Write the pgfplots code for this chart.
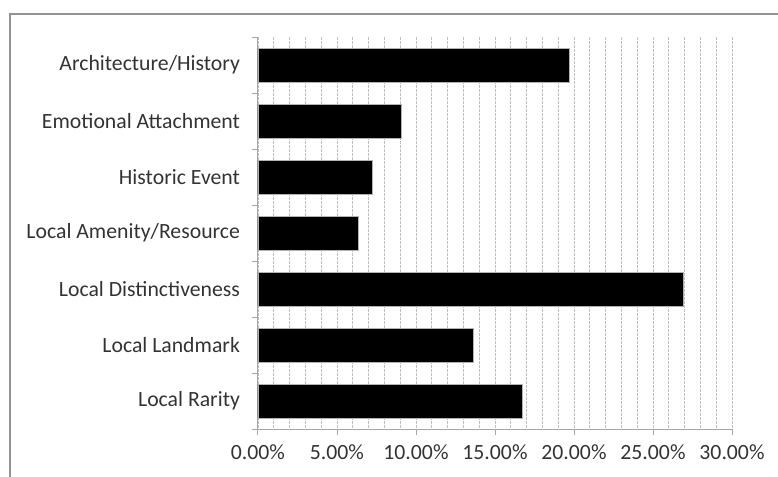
\documentclass[border=0pt]{standalone}
\usepackage{fontspec}
\setmainfont{Carlito}
\usepackage{pgfplots}
\pgfplotsset{compat=1.18}
\begin{document}
\begin{tikzpicture}
% 1 px of the reference = 0.75pt
\useasboundingbox (0pt,0pt) rectangle (583.5pt,357pt);
\draw[gray!85, line width=1.4pt] (7.5pt,-5pt) -- (7.5pt,346.5pt) -- (590pt,346.5pt);
\begin{axis}[
  scale only axis,
  width=355.5pt, height=294pt,
  at={(193.5pt,35.25pt)}, anchor=south west,
  xbar, bar width=25.5pt,
  xmin=0, xmax=30, ymin=-0.5, ymax=6.5,
  y dir=reverse,
  axis x line*=bottom, axis y line*=left,
  axis line style={gray!70, line width=0.75pt},
  xtick={0,5,...,30}, minor x tick num=4,
  xmajorgrids, xminorgrids,
  major grid style={gray!50, dash pattern=on 2pt off 1pt, line width=0.6pt},
  minor grid style={gray!50, dash pattern=on 2pt off 1pt, line width=0.6pt},
  ytick={0,...,6},
  yticklabels={Architecture/History, Emotional Attachment, Historic Event,
    Local Amenity/Resource, Local Distinctiveness, Local Landmark, Local Rarity},
  minor ytick={-0.5,0.5,...,6.5},
  tick align=outside,
  major tick length=4.5pt, minor tick length=4.5pt,
  tick style={gray!70, line width=0.75pt},
  major y tick style={draw=none},
  minor x tick style={draw=none},
  tick label style={font=\fontsize{16.3}{19}\selectfont, text=black!80},
  /pgf/number format/assume math mode=true,
  xticklabel={\pgfmathprintnumber[fixed,fixed zerofill,precision=2]{\tick}\%},
  yticklabel style={xshift=-5.5pt},
  xticklabel style={yshift=-3.5pt},
]
\addplot[fill=black, draw=gray!60, line width=0.5pt] coordinates {
  (19.7,0) (9.1,1) (7.26,2) (6.33,3) (26.9,4) (13.6,5) (16.7,6)
};
\end{axis}
\end{tikzpicture}
\end{document}
